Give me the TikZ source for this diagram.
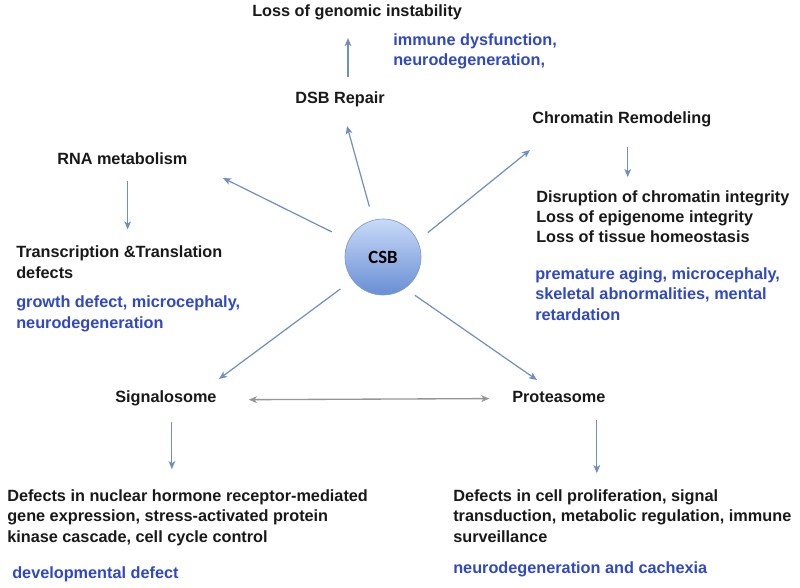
\documentclass[tikz,border=0pt]{standalone}
\usepackage{fontspec}
\setmainfont{Liberation Sans}
\newfontfamily\csbfont{Carlito}
\usetikzlibrary{positioning}
\usetikzlibrary{arrows.meta}

\definecolor{txtblack}{RGB}{25,25,25}
\definecolor{txtblue}{RGB}{48,72,196}
\definecolor{arrblue}{RGB}{112,142,192}
\definecolor{arrgray}{RGB}{150,150,150}
\definecolor{csbtop}{RGB}{200,218,248}
\definecolor{csbbot}{RGB}{104,142,212}
\definecolor{csbline}{RGB}{128,156,206}

\tikzset{
  label/.style={anchor=base west,inner sep=0pt,align=left,text=txtblack,
    font=\bfseries\fontsize{12.2}{15.2}\selectfont},
  disease/.style={label,text=txtblue},
  arr/.style={-{Stealth[length=6pt,width=5pt,inset=1.5pt]},line width=0.9pt,draw=arrblue},
  dblarr/.style={{Stealth[length=6pt,width=5pt,inset=1.5pt]}-{Stealth[length=6pt,width=5pt,inset=1.5pt]},
    line width=1pt,draw=arrgray},
  hub/.style={circle,minimum size=57pt,inner sep=0pt,draw=csbline,line width=0.5pt,
    top color=csbtop,bottom color=csbbot,font=\csbfont\bfseries\fontsize{14}{16}\selectfont}
}

\begin{document}
\begin{tikzpicture}[x=0.75pt,y=-0.75pt]
 \useasboundingbox[fill=white] (0,0) rectangle (800,588);
 % centre
 \node[hub] (csb) at (383,257) {CSB};
 % top: DSB repair
 \node[label] (loss) at (252,17) {Loss of genomic instability};
 \node[disease] (immune) at (393,66) {immune dysfunction,\\neurodegeneration,};
 \node[label] (dsb) at (295,104) {DSB Repair};
 % right: chromatin
 \node[label] (chrom) at (532,124) {Chromatin Remodeling};
 \node[label] (disrupt) at (536,243) {Disruption of chromatin integrity\\Loss of epigenome integrity\\Loss of tissue homeostasis};
 \node[disease] (aging) at (535,320) {premature aging, microcephaly,\\skeletal abnormalities, mental\\retardation};
 % left: RNA
 \node[label] (rna) at (57,165) {RNA metabolism};
 \node[label] (transl) at (16,278) {Transcription \&Translation\\defects};
 \node[disease] (growth) at (16,328) {growth defect, microcephaly,\\neurodegeneration};
 % bottom
 \node[label] (signal) at (115,402) {Signalosome};
 \node[label] (protea) at (512,402) {Proteasome};
 \node[label] (defsig) at (7,542) {Defects in nuclear hormone receptor-mediated\\gene expression, stress-activated protein\\kinase cascade, cell cycle control};
 \node[disease] (devel) at (12,578) {developmental defect};
 \node[label] (defpro) at (453,542) {Defects in cell proliferation, signal\\transduction, metabolic regulation, immune\\surveillance};
 \node[disease] (cachex) at (453,573) {neurodegeneration and cachexia};

 % tips of the spokes
 \coordinate (tiprna) at (223,178);
 \coordinate (tipdsb) at (347,126);
 \coordinate (tipchr) at (530,150);
 \coordinate (tipsig) at (219,379);
 \coordinate (tippro) at (537,380);
 \draw[arr,shorten <=14pt] (csb.154) -- (tiprna);
 \draw[arr,shorten <=10.5pt] (csb.105.5) -- (tipdsb);
 \draw[arr,shorten <=9.75pt] (csb.25) -- (tipchr);
 \draw[arr,shorten <=11.25pt] (csb.217) -- (tipsig);
 \draw[arr,shorten <=9pt] (csb.-55) -- (tippro);

 % downstream arrows
 \draw[arr,shorten <=11.5pt,shorten >=13pt] ([xshift=6pt]dsb.north) -- ([xshift=6pt]dsb.north |- loss.south);
 \draw[arr,shorten <=11.8pt,shorten >=12.2pt] ([xshift=4pt]rna.south) -- ([xshift=4pt]rna.south |- transl.north);
 \draw[arr,shorten <=14.5pt,shorten >=10pt] ([xshift=4.5pt]chrom.south) -- ([xshift=4.5pt]chrom.south |- disrupt.north);
 \draw[arr,shorten <=12.3pt,shorten >=15.2pt] ([xshift=4.5pt]signal.south) -- ([xshift=4.5pt]signal.south |- defsig.north);
 \draw[arr,shorten <=13pt,shorten >=12.2pt] ([xshift=28.5pt]protea.south) -- ([xshift=28.5pt]protea.south |- defpro.north);
 \draw[dblarr,shorten <=24pt,shorten >=17pt] ([yshift=-1.5pt]signal.east) -- ([yshift=-1.5pt]protea.west);
\end{tikzpicture}
\end{document}
